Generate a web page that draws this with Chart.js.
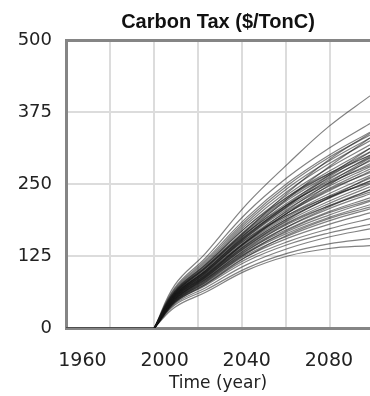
<!DOCTYPE html>
<html lang="en">
<head>
    <meta charset="UTF-8">
    <title>Carbon Tax</title>
    <script src="https://cdn.jsdelivr.net/npm/chart.js"></script>
    <style>
        body { margin: 0; background: #fff; }
    </style>
</head>
<body>
    <canvas id="taxChart" width="370" height="396"></canvas>

    <script>
        // flat part of every run, before the tax starts
        const baseYears = [1952, 1995];
        const baseValues = [0, 0];

        // years sampled for each run after the tax starts (1995 = 0)
        const runYears = [1995, 2005, 2020, 2040, 2060, 2080, 2100];

        // runs ending high
        const upperRuns = [
            [0, 75, 130, 215, 285, 350, 403],
            [0, 70, 122, 200, 262, 312, 355],
            [0, 68, 118, 192, 252, 300, 340],
            [0, 66, 115, 188, 248, 296, 335],
            [0, 64, 112, 184, 243, 290, 330],
            [0, 63, 110, 180, 238, 285, 325],
            [0, 62, 106, 170, 235, 292, 338],
            [0, 62, 108, 176, 232, 278, 318],
            [0, 61, 106, 172, 228, 272, 312],
            [0, 58, 100, 165, 225, 280, 330],
            [0, 60, 105, 170, 225, 268, 306],
            [0, 56, 97, 160, 215, 265, 312]
        ];

        // runs in the dense middle
        const middleRuns = [
            [0, 60, 104, 168, 222, 265, 300],
            [0, 59, 102, 165, 218, 260, 296],
            [0, 58, 100, 162, 214, 255, 290],
            [0, 57, 99, 160, 210, 250, 285],
            [0, 57, 98, 158, 207, 246, 280],
            [0, 56, 96, 155, 203, 242, 276],
            [0, 55, 95, 152, 200, 238, 272],
            [0, 55, 94, 150, 196, 233, 265],
            [0, 54, 92, 148, 193, 229, 260],
            [0, 54, 93, 152, 205, 252, 295],
            [0, 55, 96, 158, 212, 262, 305],
            [0, 53, 92, 150, 200, 248, 292],
            [0, 57, 100, 162, 212, 258, 298],
            [0, 60, 104, 166, 215, 252, 282],
            [0, 64, 110, 176, 228, 268, 300],
            [0, 53, 91, 146, 190, 225, 255],
            [0, 53, 90, 144, 186, 220, 250],
            [0, 52, 90, 150, 200, 240, 270],
            [0, 50, 87, 142, 188, 226, 262]
        ];

        // runs ending low
        const lowerRuns = [
            [0, 52, 89, 142, 183, 216, 245],
            [0, 51, 88, 140, 180, 212, 240],
            [0, 50, 88, 145, 190, 226, 255],
            [0, 58, 98, 155, 196, 228, 252],
            [0, 47, 82, 134, 176, 210, 240],
            [0, 50, 86, 137, 176, 207, 233],
            [0, 48, 84, 138, 182, 212, 236],
            [0, 50, 85, 135, 172, 202, 226],
            [0, 49, 84, 132, 168, 196, 220],
            [0, 46, 80, 130, 170, 200, 222],
            [0, 48, 82, 130, 165, 192, 214],
            [0, 47, 80, 127, 160, 186, 207],
            [0, 44, 76, 124, 162, 190, 210],
            [0, 46, 78, 124, 156, 180, 200],
            [0, 45, 76, 120, 150, 172, 190],
            [0, 44, 74, 116, 145, 165, 180],
            [0, 42, 70, 110, 138, 158, 172],
            [0, 40, 66, 104, 130, 146, 155],
            [0, 36, 62, 100, 125, 138, 143]
        ];

        const xTickYears = [1960, 2000, 2040, 2080];
        const xGridYears = [1973.4, 1994.9, 2016.3, 2037.7, 2059.1, 2080.6];
        const yTicks = [0, 125, 250, 375, 500];

        Chart.defaults.font.family = 'DejaVu Sans';
        Chart.defaults.color = '#222';

        const lineColor = 'rgba(25, 25, 25, 0.55)';
        const gridColor = '#dcdcdc';
        const frameColor = '#858585';

        const datasets = [];
        datasets.push({
            data: baseYears.map((yr, i) => ({ x: yr, y: baseValues[i] })),
            borderColor: 'rgba(30, 30, 30, 0.7)',
            borderWidth: 1.5,
            pointRadius: 0
        });
        upperRuns.concat(middleRuns, lowerRuns).forEach(run => {
            datasets.push({
                data: runYears.map((yr, i) => ({ x: yr, y: run[i] })),
                borderColor: lineColor,
                borderWidth: 1.2,
                pointRadius: 0,
                tension: 0.4
            });
        });

        const ctx = document.getElementById('taxChart').getContext('2d');
        new Chart(ctx, {
            type: 'line',
            data: { datasets: datasets },
            options: {
                responsive: false,
                animation: false,
                layout: { padding: 0 },
                plugins: {
                    legend: { display: false },
                    tooltip: { enabled: false },
                    title: {
                        display: true,
                        text: 'Carbon Tax ($/TonC)',
                        fullSize: false,
                        color: '#111',
                        font: { family: 'Liberation Sans', size: 20, weight: 'bold' },
                        padding: { top: 10, bottom: 6 }
                    }
                },
                scales: {
                    x: {
                        type: 'linear',
                        position: 'bottom',
                        min: 1952,
                        max: 2100,
                        afterBuildTicks: scale => {
                            scale.ticks = xTickYears.map(v => ({ value: v }));
                        },
                        ticks: {
                            font: { size: 19 },
                            padding: 14,
                            maxRotation: 0,
                            callback: v => String(v)
                        },
                        grid: { display: false },
                        border: { display: true, color: frameColor, width: 3 },
                        title: {
                            display: true,
                            text: 'Time (year)',
                            font: { size: 17 },
                            padding: { top: 0, bottom: 2 }
                        },
                        afterFit: scale => { scale.height = 68; }
                    },
                    x2: {
                        type: 'linear',
                        position: 'top',
                        min: 1952,
                        max: 2100,
                        afterBuildTicks: scale => {
                            scale.ticks = xGridYears.map(v => ({ value: v }));
                        },
                        ticks: { display: false },
                        grid: { color: gridColor, lineWidth: 2, drawTicks: false },
                        border: { display: true, color: frameColor, width: 3 },
                        afterFit: scale => { scale.height = 0; }
                    },
                    y: {
                        min: 0,
                        max: 500,
                        afterBuildTicks: scale => {
                            scale.ticks = yTicks.map(v => ({ value: v }));
                        },
                        ticks: { font: { size: 18 }, padding: 14 },
                        grid: { color: gridColor, lineWidth: 2, drawTicks: false },
                        border: { color: frameColor, width: 3 },
                        afterFit: scale => { scale.width = 66; }
                    }
                }
            }
        });
    </script>
</body>
</html>
